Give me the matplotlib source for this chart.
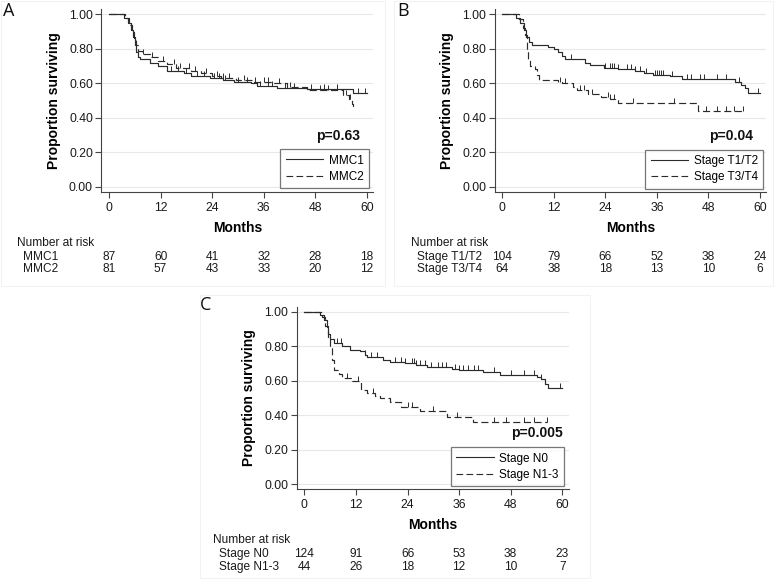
import numpy as np
import matplotlib.pyplot as plt
from matplotlib.lines import Line2D
from matplotlib.patches import Rectangle

plt.rcParams['font.family'] = ['Liberation Sans', 'DejaVu Sans']

# ---------------------------------------------------------------------------
# data (step times in months, survival after each step)
# ---------------------------------------------------------------------------
a1_t = [0, 3.5, 4.5, 5.2, 5.6, 6.0, 6.3, 6.7, 7.2, 9.5, 11.5, 13.5, 17.5, 19.0, 23.5, 26.5, 29.0, 33.0, 34.5, 39.0, 46.0, 56.8]
a1_s = [1.0, 0.98, 0.95, 0.91, 0.87, 0.82, 0.78, 0.75, 0.74, 0.72, 0.70, 0.67, 0.66, 0.64, 0.63, 0.62, 0.61, 0.60, 0.585, 0.575, 0.565, 0.545]
a1_end = 60
a1_cens = [14.5, 16, 18, 20.5, 22, 24.5, 25.5, 27, 30, 32, 35, 37, 38, 41, 43, 47, 50, 53, 58, 59.5]

a2_t = [0, 3.8, 4.6, 5.3, 5.8, 6.3, 6.8, 7.6, 9.5, 11.5, 13.5, 15.5, 19.0, 21.5, 24.0, 26.0, 29.5, 33.5, 38.0, 41.5, 46.0, 54.5, 55.8, 56.4, 56.8]
a2_s = [1.0, 0.98, 0.94, 0.90, 0.86, 0.82, 0.79, 0.77, 0.75, 0.73, 0.71, 0.69, 0.67, 0.66, 0.64, 0.63, 0.62, 0.61, 0.60, 0.58, 0.56, 0.53, 0.51, 0.48, 0.45]
a2_end = 56.9
a2_cens = [8, 10, 12.5, 15, 16.5, 18.5, 20, 22.5, 25, 26.5, 28, 31.5, 34, 36, 37, 39.5, 42, 49, 51, 53, 55, 56]

b1_t = [0, 3.2, 4.2, 5.0, 5.6, 6.2, 6.8, 10.6, 12.0, 13.0, 14.0, 14.6, 19.3, 20.5, 23.6, 27.0, 31.0, 33.0, 35.0, 39.0, 41.8, 54.2, 55.5, 56.5, 57.2]
b1_s = [1.0, 0.98, 0.95, 0.91, 0.87, 0.84, 0.82, 0.81, 0.80, 0.78, 0.76, 0.74, 0.72, 0.705, 0.69, 0.68, 0.67, 0.66, 0.65, 0.64, 0.625, 0.61, 0.59, 0.57, 0.545]
b1_end = 60
b1_cens = [16, 24, 25, 25.5, 26, 27, 29, 30, 31, 32, 33.5, 35.5, 36, 36.5, 37, 37.5, 39.5, 43, 44, 46, 47, 50, 52, 55, 59.5]

b2_t = [0, 4.0, 4.9, 5.3, 5.8, 6.1, 6.5, 7.5, 8.0, 8.5, 13.0, 14.0, 16.5, 17.5, 20.0, 23.0, 25.0, 26.2, 27.0, 45.6]
b2_s = [1.0, 0.97, 0.92, 0.88, 0.80, 0.74, 0.70, 0.68, 0.65, 0.62, 0.61, 0.60, 0.58, 0.56, 0.54, 0.52, 0.51, 0.50, 0.485, 0.44]
b2_end = 56.5
b2_cens = [13.5, 14.5, 18, 19, 21, 24.5, 25, 26, 30.5, 40, 47.5, 50, 52, 54, 56]

c1_t = [0, 3.6, 4.5, 5.2, 5.6, 6.0, 7.0, 8.7, 10.6, 13.0, 14.0, 14.5, 18.4, 20.0, 23.4, 26.0, 28.5, 34.3, 36.0, 41.6, 45.5, 54.0, 55.0, 56.0, 56.7]
c1_s = [1.0, 0.98, 0.95, 0.91, 0.87, 0.84, 0.82, 0.80, 0.78, 0.77, 0.75, 0.74, 0.72, 0.71, 0.70, 0.69, 0.68, 0.67, 0.665, 0.65, 0.635, 0.62, 0.61, 0.58, 0.56]
c1_end = 60
c1_cens = [7.5, 8.5, 14, 15.5, 17, 21, 22.5, 23.5, 25, 25.5, 26, 27, 28, 29.5, 31, 32, 33, 35, 36, 37, 38, 39.5, 40.5, 44, 48, 51, 53.5, 55, 59.5]

c2_t = [0, 4.0, 4.8, 5.5, 6.0, 6.4, 7.0, 8.0, 8.7, 11.0, 13.3, 14.5, 16.4, 17.5, 19.9, 22.6, 26.9, 33.1, 39.3]
c2_s = [1.0, 0.97, 0.92, 0.85, 0.80, 0.72, 0.66, 0.64, 0.615, 0.60, 0.546, 0.53, 0.51, 0.50, 0.475, 0.45, 0.425, 0.39, 0.363]
c2_end = 56.4
c2_cens = [10, 12.5, 16, 24, 25, 30, 35.5, 44, 47, 51, 53.5, 56.5]

risk_times = [0, 12, 24, 36, 48, 60]
a_labels = ["MMC1", "MMC2"]
a_risk = [[87, 60, 41, 32, 28, 18], [81, 57, 43, 33, 20, 12]]
b_labels = ["Stage T1/T2", "Stage T3/T4"]
b_risk = [[104, 79, 66, 52, 38, 24], [64, 38, 18, 13, 10, 6]]
c_labels = ["Stage N0", "Stage N1-3"]
c_risk = [[124, 91, 66, 53, 38, 23], [44, 26, 18, 12, 10, 7]]

p_values = ["p=0.63", "p=0.04", "p=0.005"]

# ---------------------------------------------------------------------------
W, H = 774, 579
fig = plt.figure(figsize=(W / 100, H / 100), dpi=100)
fig.patch.set_facecolor('white')

XLIM = (-1.8, 61.5)
YLIM = (-0.03, 1.03)
LC = '#2b2b2b'
FS = 8.8     # tick labels
FT = 8.6     # number at risk table
FL = 8.5     # legend
FB = 10      # bold labels

# faint panel frames
for (x0, y0, x1, y1) in [(1, 1, 385, 286), (394, 1, 773, 286), (200, 295, 590, 578)]:
    fig.patches.append(Rectangle((x0 / W, 1 - y1 / H), (x1 - x0) / W, (y1 - y0) / H,
                                 transform=fig.transFigure, fill=False,
                                 edgecolor='#f2f2f2', lw=0.8))


def km_line(ax, t, s, end, cens, ls):
    tt = list(t) + [end]
    ss = list(s) + [s[-1]]
    ax.step(tt, ss, where='post', color=LC, lw=0.85, ls=ls)
    idx = np.searchsorted(t, cens, side='right') - 1
    ax.plot(cens, np.array(s)[idx], ls='none', marker=2, ms=3.5, mew=0.7, color=LC)


def panel(x0px, x60px, y1px, y0px, curves, labels, risk, pval, pval_x, letter, letter_xy,
          leg_anchor, risk_label_x):
    ppm = (x60px - x0px) / 60.0
    ppu = (y0px - y1px) / 1.0
    left = x0px + XLIM[0] * ppm
    width = (XLIM[1] - XLIM[0]) * ppm
    top = y1px - (YLIM[1] - 1.0) * ppu
    height = (YLIM[1] - YLIM[0]) * ppu
    ax = fig.add_axes([left / W, 1 - (top + height) / H, width / W, height / H])
    ax.set_xlim(XLIM)
    ax.set_ylim(YLIM)
    for y in np.arange(0, 1.01, 0.2):
        ax.axhline(y, color='#e8e8e8', lw=0.8, zorder=0)
    for (t, s, end, cens), ls in zip(curves, ['-', (0, (6, 3))]):
        km_line(ax, t, s, end, cens, ls)
    ax.spines['top'].set_visible(False)
    ax.spines['right'].set_visible(False)
    ax.spines['left'].set_color('#444444')
    ax.spines['bottom'].set_color('#444444')
    ax.set_xticks(risk_times)
    ax.set_yticks(np.arange(0, 1.01, 0.2))
    ax.set_yticklabels([f"{v:.2f}" for v in np.arange(0, 1.01, 0.2)])
    ax.tick_params(colors='#444444', labelcolor='#1a1a1a', labelsize=FS, length=4, width=0.8)
    ax.tick_params(axis='y', pad=2)
    ax.tick_params(axis='x', pad=3)
    ax.set_xlabel("Months", fontsize=FB, fontweight='bold', labelpad=5)
    ax.set_ylabel("Proportion surviving", fontsize=FB, fontweight='bold', labelpad=6)
    ax.text(pval_x, 0.295, pval, ha='right', va='center',
            fontsize=FB, fontweight='bold', color='#111111')
    handles = [Line2D([], [], color=LC, lw=0.8, ls='-'),
               Line2D([], [], color=LC, lw=0.8, ls=(0, (6, 3)))]
    leg = ax.legend(handles, labels, loc='lower right', bbox_to_anchor=leg_anchor,
                    fontsize=FL, frameon=True, fancybox=False, borderpad=0.45,
                    handlelength=3.2, handletextpad=0.45, labelspacing=0.35,
                    borderaxespad=0)
    leg.get_frame().set_edgecolor('#555555')
    leg.get_frame().set_linewidth(0.9)

    # number at risk table
    fig.text(risk_label_x / W, 1 - (y0px + 56) / H, "Number at risk",
             fontsize=FT, va='center', ha='left', color='#1a1a1a')
    for r, (lab, row) in enumerate(zip(labels, risk)):
        ypx = y0px + 70 + 12.5 * r
        fig.text((risk_label_x + 6) / W, 1 - ypx / H, lab, fontsize=FT,
                 va='center', ha='left', color='#1a1a1a')
        for tm, n in zip(risk_times, row):
            fig.text((x0px + tm * ppm) / W, 1 - ypx / H, str(n), fontsize=FT,
                     va='center', ha='center', color='#1a1a1a')
    fig.text(letter_xy[0] / W, 1 - letter_xy[1] / H, letter, fontsize=13,
             family='Open Sans', va='center', ha='center', color='#111111')
    return ax


panel(109, 367, 14.3, 186.7,
      [(a1_t, a1_s, a1_end, a1_cens), (a2_t, a2_s, a2_end, a2_cens)],
      a_labels, a_risk, p_values[0], 58.4, "A", (9, 11), (0.983, 0.021), 17)
panel(502.3, 760, 14.3, 186.7,
      [(b1_t, b1_s, b1_end, b1_cens), (b2_t, b2_s, b2_end, b2_cens)],
      b_labels, b_risk, p_values[1], 58.4, "B", (403, 11), (0.988, 0.017), 411)
panel(304.3, 562.3, 311.7, 484.3,
      [(c1_t, c1_s, c1_end, c1_cens), (c2_t, c2_s, c2_end, c2_cens)],
      c_labels, c_risk, p_values[2], 60.1, "C", (206, 305), (0.983, 0.019), 213)

fig.savefig("out.png", dpi=100)
